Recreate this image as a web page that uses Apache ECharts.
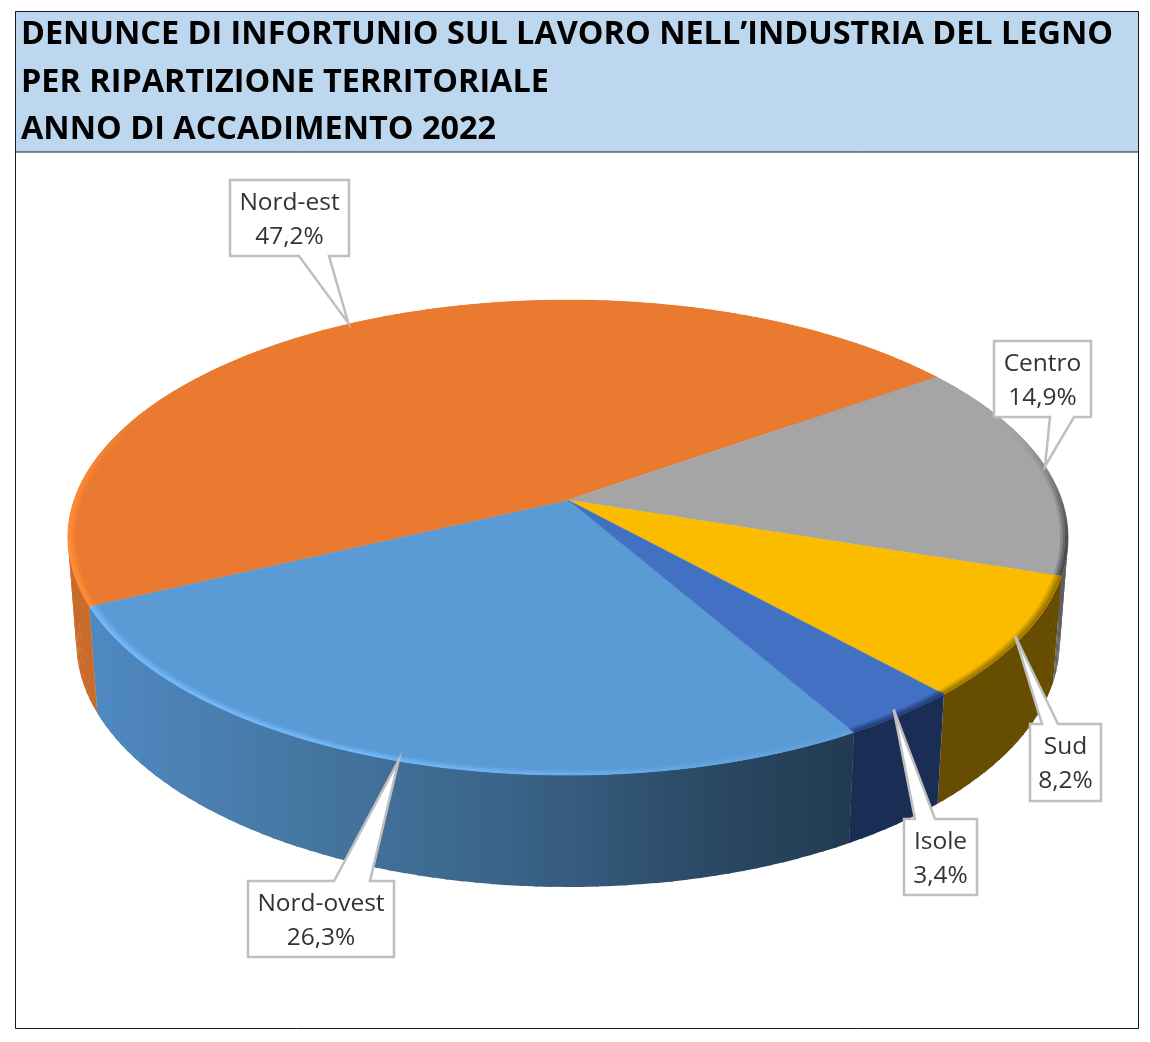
<!DOCTYPE html>
<html><head><meta charset="utf-8">
<style>html,body{margin:0;padding:0;background:#fff}#c{width:1150px;height:1042px}</style>
<script src="https://cdn.jsdelivr.net/npm/echarts@6/dist/echarts.min.js"></script>
</head><body><div id="c"></div>
<script>
const titleLines = ["DENUNCE DI INFORTUNIO SUL LAVORO NELL\u2019INDUSTRIA DEL LEGNO","PER RIPARTIZIONE TERRITORIALE","ANNO DI ACCADIMENTO 2022"];
const categories = ["Nord-ovest","Nord-est","Centro","Sud","Isole"];
const values = [26.3,47.2,14.9,8.2,3.4];
const firstSliceAngle = 150;

// Styling / layout, kept apart from the data
const topColors  = ["#5B9BD5","#E97A30","#A5A5A5","#FBBC00","#4270C2"];
const rimColors  = ["#72B8FA","#FF8C38","#4A4A4A","#A07800","#25427C"];
const boxes = [[248,881,394,957,334,370],[230,180,349,256,299,329],[994,341,1091,417,1050,1074],[1030,724,1101,801,1042,1058],[904,819,977,895,915,935]];
const tipNudge = [[4,0],[0,-1],[0,0],[-6,-2],[-8,-5]];
const P = {x0:568,y0:500,a:493.8,b:231.6,k:-0.158};
const FONT = '"Open Sans"';

const total = values.reduce((s,v)=>s+v,0);
const starts = []; values.reduce((acc,v,i)=>{starts[i]=acc;return acc+v/total*360;},firstSliceAngle);
function topPt(deg,r){r=r===undefined?1:r;const t=deg*Math.PI/180,u=Math.sin(t)*r,v=-Math.cos(t)*r,d=1+P.k*v;return [P.x0+P.a*u/d,P.y0+P.b*v/d];}
function lowPt(deg){const p=topPt(deg);return [p[0]-(p[0]-P.x0)*0.0168,p[1]+107+0.029*(p[1]-605)];}
function arc(a,b,fn,r){const n=Math.max(2,Math.ceil((b-a)/1)),o=[];for(let i=0;i<=n;i++)o.push(fn(a+(b-a)*i/n,r));return o;}
function hex(c){return [1,3,5].map(i=>parseInt(c.substr(i,2),16));}
function mix(c1,c2,w){const a=hex(c1),b=hex(c2);return 'rgb('+a.map((x,i)=>Math.round(x+(b[i]-x)*w)).join(',')+')';}
function ss(e0,e1,x){const t=Math.min(1,Math.max(0,(x-e0)/(e1-e0)));return t*t*(3-2*t);}
function rimW(i,deg){const d=((deg%360)+360)%360;
  let w=ss(68,105,d)*(1-ss(262,305,d));
  if(i===0) w*=0.2+0.8*ss(150,205,d);
  return w;}
function sideFill(i){
  if(i===0) return new echarts.graphic.LinearGradient(95,0,855,0,[{offset:0,color:'#4F89C2'},{offset:0.3,color:'#44759F'},{offset:0.55,color:'#3A6388'},{offset:0.8,color:'#2B4A66'},{offset:1,color:'#213A50'}],true);
  if(i===1) return '#C96B2A';
  if(i===2) return new echarts.graphic.LinearGradient(1040,0,1068,0,[{offset:0,color:'#6E6E6E'},{offset:1,color:'#585858'}],true);
  if(i===3) return '#664D00';
  return '#1A2D54';
}
const seriesData = values.map((v,i)=>({name:categories[i],value:v}));

function renderSide(params,api){
  const i=params.dataIndex,a=starts[i],b=a+api.value(0)/total*360,children=[],step=1.5,fill=sideFill(i);
  for(let d=a;d<b-1e-6;d+=step){
    const e=Math.min(b,d+step+0.3);
    children.push({type:'polygon',shape:{points:[topPt(d),topPt(e),lowPt(e),lowPt(d)]},style:{fill:fill}});
  }
  return {type:'group',children:children,silent:true};
}
function renderTop(params,api){
  const i=params.dataIndex,a=starts[i],b=a+api.value(0)/total*360,children=[];
  children.push({type:'polygon',shape:{points:[[P.x0,P.y0]].concat(arc(a,b,topPt))},style:{fill:topColors[i],stroke:topColors[i],lineWidth:0.4}});
  const rings=[[1,0.994,1],[0.994,0.989,0.7],[0.989,0.985,0.3]];
  const step=2;
  for(let d=a;d<b-1e-6;d+=step){
    const e=Math.min(b,d+step),w=rimW(i,(d+e)/2);
    if(w<0.02) continue;
    rings.forEach(r=>{
      const col=mix(topColors[i],rimColors[i],w*r[2]);
      children.push({type:'polygon',shape:{points:arc(d,e,topPt,r[0]).concat(arc(d,e,topPt,r[1]).reverse())},style:{fill:col,stroke:col,lineWidth:0.4}});
    });
  }
  return {type:'group',children:children,silent:true};
}
function renderCallout(params,api){
  const i=params.dataIndex,v=api.value(0),mid=starts[i]+v/total*180,p=topPt(mid),q=boxes[i];
  const tip=[p[0]+tipNudge[i][0],p[1]+tipNudge[i][1]];
  const [l,t,r,bt,w1,w2]=q; let pts;
  if(tip[1]<t) pts=[[l,t],[w1,t],tip,[w2,t],[r,t],[r,bt],[l,bt]];
  else pts=[[l,t],[r,t],[r,bt],[w2,bt],tip,[w1,bt],[l,bt]];
  return {type:'group',silent:true,children:[
    {type:'polygon',shape:{points:pts},style:{fill:'#fff',stroke:'#BFBFBF',lineWidth:2.5,lineJoin:'miter'}},
    {type:'text',x:(l+r)/2,y:(t+bt)/2+2,style:{text:categories[i]+'\n'+v.toFixed(1).replace('.',',')+'%',fill:'#333333',font:'24.5px '+FONT,lineHeight:34,align:'center',verticalAlign:'middle'}}
  ]};
}
const chart=echarts.init(document.getElementById('c'),null,{renderer:'canvas'});
chart.setOption({
  animation:false,
  backgroundColor:'#fff',
  title:{text:titleLines.join('\n'),left:21,top:11.5,padding:0,textStyle:{fontFamily:FONT,fontWeight:'bold',fontSize:32.4,lineHeight:47.5,color:'#000'}},
  graphic:[
    {type:'rect',z:-1,shape:{x:15.5,y:11.5,width:1123,height:1017},style:{fill:'#fff',stroke:'#1a1a1a',lineWidth:1}},
    {type:'rect',z:-1,shape:{x:15.5,y:11.5,width:1123,height:140.5},style:{fill:'#BDD7EE',stroke:'#1a1a1a',lineWidth:1}}
  ],
  series:[
    {type:'custom',coordinateSystem:'none',z:2,data:seriesData,renderItem:renderSide,encode:{value:'value'}},
    {type:'custom',coordinateSystem:'none',z:3,data:seriesData,renderItem:renderTop,encode:{value:'value'}},
    {type:'custom',coordinateSystem:'none',z:4,data:seriesData,renderItem:renderCallout,encode:{value:'value'}}
  ]
});
</script></body></html>
